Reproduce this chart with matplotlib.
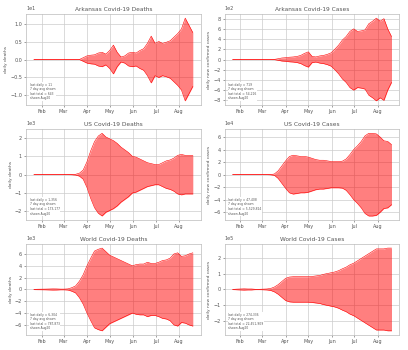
import numpy as np
import pandas as pd
import matplotlib
matplotlib.use("Agg")
import matplotlib.pyplot as plt
import matplotlib.dates as mdates

# 7-day averaged daily values, sampled every 5 days from 2020-01-22
dates = pd.date_range("2020-01-22", periods=43, freq="5D")

ar_deaths = [0, 0, 0, 0, 0, 0, 0, 0, 0, 0, 0, 0, 0, 0.5, 1.0, 1.2, 1.3, 1.8, 2.0, 1.5,
             2.5, 4.0, 2.0, 0.7, 1.0, 1.8, 2.0, 1.8, 2.5, 3.0, 4.5, 6.5, 4.5, 5.0, 4.5,
             4.8, 5.2, 6.2, 7.2, 8.5, 11.5, 9.5, 7.5]
ar_cases = [0, 0, 0, 0, 0, 0, 0, 0, 0, 0, 0, 2, 15, 30, 35, 45, 50, 60, 80, 120,
            150, 60, 50, 70, 80, 100, 130, 200, 280, 380, 450, 550, 600, 550, 560,
            580, 700, 750, 810, 750, 800, 600, 450]
us_deaths = [0, 0, 0, 0, 0, 0, 0, 0, 0, 0, 5, 20, 80, 250, 700, 1300, 1800, 2100,
             2250, 2050, 1950, 1850, 1700, 1500, 1350, 1200, 1000, 950, 850, 750,
             650, 600, 550, 550, 650, 750, 800, 900, 1050, 1100, 1050, 1050, 1050]
us_cases = [0, 0, 0, 0, 0, 0, 0, 0, 0, 0, 200, 1000, 6000, 14000, 22000, 29000,
            31000, 30000, 29000, 29000, 28000, 26000, 24000, 23000, 23000, 22000,
            21000, 21000, 21000, 21500, 25000, 32000, 40000, 46000, 53000, 62000,
            66000, 66000, 65000, 60000, 54000, 53000, 48000]
world_deaths = [20, 40, 50, 60, 80, 100, 90, 60, 60, 100, 300, 600, 1400, 2500,
                4000, 5300, 6500, 6800, 7000, 6400, 5800, 5500, 5200, 4900, 4600,
                4300, 4000, 4200, 4300, 4300, 4600, 4400, 4400, 4600, 4900, 5000,
                5300, 6000, 6200, 5600, 5700, 6000, 6200]
world_cases = [500, 2000, 3000, 4000, 3000, 3000, 1000, 1000, 2000, 3000, 6000,
               15000, 30000, 50000, 70000, 78000, 80000, 80000, 80000, 80000, 80000,
               82000, 85000, 88000, 95000, 100000, 105000, 110000, 118000, 130000,
               140000, 155000, 165000, 180000, 195000, 210000, 225000, 240000,
               255000, 255000, 255000, 260000, 260000]

titles = ["Arkansas Covid-19 Deaths", "Arkansas Covid-19 Cases",
          "US Covid-19 Deaths", "US Covid-19 Cases",
          "World Covid-19 Deaths", "World Covid-19 Cases"]
ylabels = ["daily deaths", "daily new confirmed cases"] * 3
notes = ["last daily = 11\n7 day avg shown\nlast total = 643\nshown Aug20",
         "last daily = 719\n7 day avg shown\nlast total = 54,216\nshown Aug20",
         "last daily = 1,356\n7 day avg shown\nlast total = 173,177\nshown Aug20",
         "last daily = 47,408\n7 day avg shown\nlast total = 5,529,824\nshown Aug20",
         "last daily = 6,304\n7 day avg shown\nlast total = 787,873\nshown Aug20",
         "last daily = 274,336\n7 day avg shown\nlast total = 22,451,909\nshown Aug20"]
series = [ar_deaths, ar_cases, us_deaths, us_cases, world_deaths, world_cases]

fig = plt.figure(figsize=(4.08, 3.5), dpi=100)
lefts = [0.064, 0.551]
bottoms = [0.70, 0.371, 0.043]
grey = "#555555"

for i, (y, title, ylab, note) in enumerate(zip(series, titles, ylabels, notes)):
    ax = fig.add_axes([lefts[i % 2], bottoms[i // 2], 0.428, 0.26])
    y = np.array(y, dtype=float)
    ax.fill_between(dates, -y, y, color="red", alpha=0.5, lw=0)
    ax.plot(dates, y, color="red", lw=0.4)
    ax.plot(dates, -y, color="red", lw=0.4)
    ax.set_title(title, fontsize=4.2, color=grey, pad=2)
    ax.set_ylabel(ylab, fontsize=3.2, color=grey, labelpad=1.5)
    ax.xaxis.set_major_locator(mdates.MonthLocator())
    ax.xaxis.set_major_formatter(mdates.DateFormatter("%b"))
    ax.ticklabel_format(axis="y", style="sci", scilimits=(0, 0))
    ax.yaxis.get_offset_text().set_fontsize(3.5)
    ax.yaxis.get_offset_text().set_color(grey)
    ax.tick_params(labelsize=3.5, colors=grey, length=1.5, width=0.4, pad=1.5)
    ax.grid(True, color="#cccccc", lw=0.5)
    ax.set_axisbelow(True)
    for s in ax.spines.values():
        s.set_color("#bbbbbb")
        s.set_linewidth(0.5)
    ax.text(0.02, 0.05, note, transform=ax.transAxes, fontsize=2.2, color=grey,
            linespacing=1.2, va="bottom", ha="left",
            bbox=dict(facecolor="white", edgecolor="none", pad=0.5))

fig.savefig("out.png", dpi=100)
